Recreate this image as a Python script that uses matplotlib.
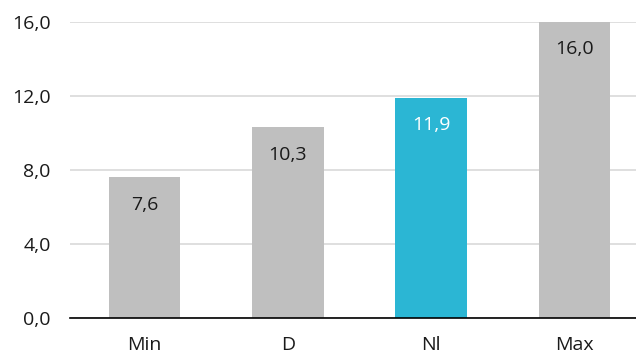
import matplotlib.pyplot as plt

categories = ["Min", "D", "Nl", "Max"]
values = [7.6, 10.3, 11.9, 16.0]
highlight = "Nl"
yticks = [0, 4, 8, 12, 16]

plt.rcParams['font.family'] = ['Open Sans', 'DejaVu Sans']

fig = plt.figure(figsize=(6.36, 3.53), dpi=100)
ax = fig.add_axes([0.110, 0.099, 0.890, 0.839])

colors = ['#2BB6D4' if c == highlight else '#BFBFBF' for c in categories]
x = range(len(categories))
ax.bar(x, values, width=0.5, color=colors, zorder=2)

# value labels sit inside the bar, just below its top
for i, v in enumerate(values):
    txt_color = 'white' if categories[i] == highlight else '#1a1a1a'
    ax.text(i, v - 1.75, f"{v:.1f}".replace('.', ','), ha='center', va='baseline',
            fontsize=14, color=txt_color, zorder=3)

ax.set_xlim(-0.52, 3.43)
ax.set_ylim(0, 16)
ax.set_yticks(yticks)
ax.set_yticklabels([f"{t:.1f}".replace('.', ',') for t in yticks])
ax.set_xticks(list(x))
ax.set_xticklabels(categories)
ax.tick_params(axis='both', length=0, labelsize=14, colors='#1a1a1a')
ax.tick_params(axis='y', pad=14)
ax.tick_params(axis='x', pad=13)

ax.grid(axis='y', color='#D9D9D9', linewidth=1.2, zorder=0)
for s in ['left', 'right', 'top']:
    ax.spines[s].set_visible(False)
ax.spines['bottom'].set_color('#000000')
ax.spines['bottom'].set_linewidth(1.2)
ax.spines['bottom'].set_zorder(4)

fig.savefig('out.png', dpi=100)
